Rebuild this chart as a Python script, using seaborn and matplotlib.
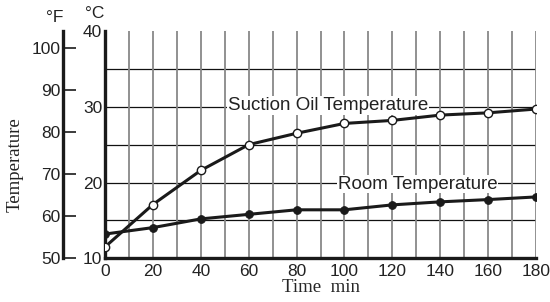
import numpy as np
import pandas as pd
import matplotlib
matplotlib.use("Agg")
import matplotlib.pyplot as plt
import seaborn as sns

# data (degrees C)
time_min = [0, 20, 40, 60, 80, 100, 120, 140, 160, 180]
suction_oil_c = [11.5, 17.1, 21.6, 25.0, 26.5, 27.8, 28.2, 28.9, 29.2, 29.7]
room_c = [13.2, 14.05, 15.2, 15.8, 16.4, 16.4, 17.05, 17.45, 17.75, 18.1]

x_ticks = list(range(0, 181, 20))
c_ticks = [10, 20, 30, 40]
f_ticks = [50, 60, 70, 80, 90, 100]
c_grid = [15, 20, 25, 30, 35]

sns.set_style("white")
plt.rcParams['font.family'] = ['Liberation Sans', 'DejaVu Sans']
plt.rcParams['text.color'] = '#222222'
plt.rcParams['xtick.color'] = '#222222'
plt.rcParams['ytick.color'] = '#222222'

df = pd.DataFrame({'time': time_min, 'oil': suction_oil_c, 'room': room_c})

fig = plt.figure(figsize=(5.5, 3.02), dpi=100)
ax = fig.add_axes([105 / 550, 1 - 258.3 / 302, 431 / 550, (258.3 - 31) / 302])

# grid
ax.set_xticks(np.arange(0, 181, 10), minor=True)
ax.grid(which='both', axis='x', color='#888888', lw=1.3)
for v in c_grid:
    ax.axhline(v, color='#111111', lw=0.9, zorder=0.5)

sns.lineplot(data=df, x='time', y='oil', ax=ax, color='#1a1a1a', lw=2.2,
             marker='o', markersize=6, markerfacecolor='white',
             markeredgecolor='#1a1a1a', markeredgewidth=1.0, zorder=3)
sns.lineplot(data=df, x='time', y='room', ax=ax, color='#1a1a1a', lw=2.2,
             marker='o', markersize=5.5, markerfacecolor='#1a1a1a',
             markeredgecolor='#1a1a1a', zorder=3)

ax.set_xlim(0, 180)
ax.set_ylim(10, 40)
ax.set_xticks(x_ticks)
ax.set_yticks(c_ticks)
ax.tick_params(axis='both', which='both', length=0, labelsize=12.5)
ax.tick_params(axis='y', pad=2)
ax.tick_params(axis='x', pad=4)
for s in ['top', 'right']:
    ax.spines[s].set_visible(False)
for s in ['left', 'bottom']:
    ax.spines[s].set_linewidth(2.4)
    ax.spines[s].set_color('#1a1a1a')
ax.set_xlabel('Time  min', family=['Liberation Serif'], fontsize=13.5, labelpad=0)
ax.set_ylabel('')

# Fahrenheit scale
sec = ax.secondary_yaxis(-42 / 431, functions=(lambda c: c * 9 / 5 + 32,
                                               lambda f: (f - 32) * 5 / 9))
sec.set_yticks(f_ticks)
sec.tick_params(direction='in', length=9.5, width=1.2, labelsize=12.5, pad=2,
                color='#1a1a1a')
sec.spines['left'].set_linewidth(2.4)
sec.spines['left'].set_color('#1a1a1a')

ax.text(93, 30.2, 'Suction Oil Temperature', fontsize=13.5, ha='center', va='center',
        bbox=dict(facecolor='white', edgecolor='none', pad=0.5), zorder=2)
ax.text(130.5, 19.8, 'Room Temperature', fontsize=13.5, ha='center', va='center',
        bbox=dict(facecolor='white', edgecolor='none', pad=0.5), zorder=2)

fig.text(55 / 550, 1 - 18 / 302, '°F', fontsize=12.5, ha='center', va='center')
fig.text(95 / 550, 1 - 13 / 302, '°C', fontsize=12.5, ha='center', va='center')
fig.text(15 / 550, 1 - 165 / 302, 'Temperature', family=['Liberation Serif'],
         fontsize=13.5, rotation=90, ha='center', va='center')

fig.savefig('out.png', dpi=100)
